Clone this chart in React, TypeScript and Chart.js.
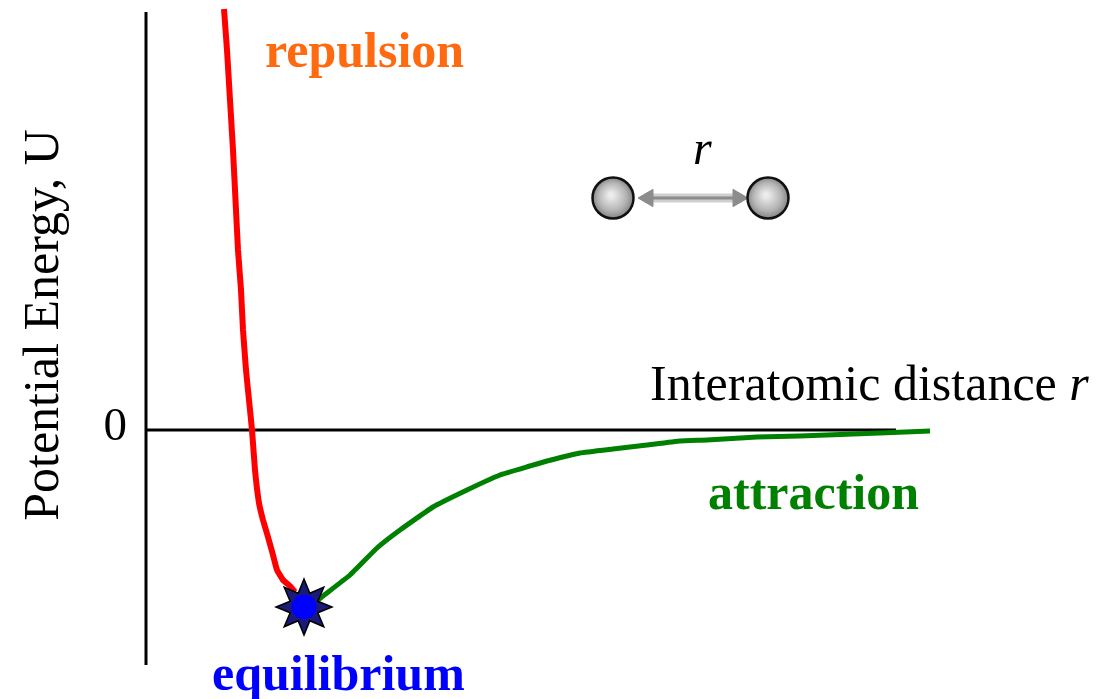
import React, { useEffect, useRef } from 'react';
import { Chart, registerables } from 'chart.js';

Chart.register(...registerables);

// ---- data (arbitrary units: r along x, U along y) ----
const repulsionR = [0.78, 0.81, 0.84, 0.87, 0.90, 0.92, 0.95, 0.97, 1.00, 1.03, 1.06, 1.09, 1.13, 1.17, 1.22, 1.27, 1.31, 1.37, 1.44, 1.49];
const repulsionU = [4.21, 3.80, 3.30, 2.80, 2.20, 1.80, 1.40, 1.00, 0.60, 0.30, 0.00, -0.40, -0.73, -0.90, -1.07, -1.25, -1.40, -1.50, -1.56, -1.62];

const attractionR = [1.72, 1.77, 2.04, 2.31, 2.54, 2.87, 3.21, 3.54, 3.84, 4.01, 4.34, 4.67, 5.01, 5.34, 5.61, 6.11, 6.54, 7.34, 7.84];
const attractionU = [-1.70, -1.66, -1.45, -1.18, -1.00, -0.77, -0.60, -0.45, -0.36, -0.31, -0.23, -0.19, -0.15, -0.11, -0.10, -0.07, -0.06, -0.03, -0.01];

const equilibriumR = [1.58];
const equilibriumU = [-1.77];

const yAxisR = [0, 0];
const yAxisU = [4.18, -2.35];
const xAxisR = [0, 7.5];
const xAxisU = [0, 0];

const atomR = [4.67, 6.22];
const atomU = [2.32, 2.32];
const arrowShaftR = [4.98, 5.96];
const arrowShaftU = [2.32, 2.32];
const arrowHeadR = [5.02, 5.92];
const arrowHeadU = [2.32, 2.32];

const rMin = 0;
const rMax = 8;
const uMin = -2.35;
const uMax = 4.18;

const labelTexts = ['repulsion', 'attraction', 'equilibrium', '0', 'r', 'Potential Energy, U'];
const labelR = [1.19, 5.62, 0.66, -0.19, 5.47, -0.88];
const labelU = [3.63, -0.79, -2.60, -0.10, 2.66, 1.05];
const xTitleMain = 'Interatomic distance ';
const xTitleVar = 'r';
const xTitleR = 5.04;
const xTitleU = 0.30;

const SERIF = '"Liberation Serif", "Times New Roman", Times, serif';

const labelStyles = [
  { font: `bold 50px ${SERIF}`, color: '#ff6a10', align: 'left', rotate: false },
  { font: `bold 50px ${SERIF}`, color: '#008000', align: 'left', rotate: false },
  { font: `bold 50px ${SERIF}`, color: '#0000ff', align: 'left', rotate: false },
  { font: `47px ${SERIF}`, color: '#000000', align: 'right', rotate: false },
  { font: `italic 48px ${SERIF}`, color: '#000000', align: 'left', rotate: false },
  { font: `50px ${SERIF}`, color: '#000000', align: 'center', rotate: true },
];

const pts = (xs: number[], ys: number[]) => xs.map((x, i) => ({ x, y: ys[i] }));

const textPlugin = {
  id: 'chartTexts',
  afterDatasetsDraw(chart: any) {
    const { ctx } = chart;
    const xs = chart.scales.x;
    const ys = chart.scales.y;
    ctx.save();
    ctx.textBaseline = 'alphabetic';
    labelTexts.forEach((t, i) => {
      const st = labelStyles[i];
      const px = xs.getPixelForValue(labelR[i]);
      const py = ys.getPixelForValue(labelU[i]);
      ctx.font = st.font;
      ctx.fillStyle = st.color;
      ctx.textAlign = st.align;
      if (st.rotate) {
        ctx.save();
        ctx.translate(px, py);
        ctx.rotate(-Math.PI / 2);
        ctx.fillText(t, 0, 0);
        ctx.restore();
      } else {
        ctx.fillText(t, px, py);
      }
    });
    // x-axis title with italic variable
    const tx = xs.getPixelForValue(xTitleR);
    const ty = ys.getPixelForValue(xTitleU);
    ctx.textAlign = 'left';
    ctx.fillStyle = '#000000';
    ctx.font = `50px ${SERIF}`;
    ctx.fillText(xTitleMain, tx, ty);
    const w = ctx.measureText(xTitleMain).width;
    ctx.font = `italic 50px ${SERIF}`;
    ctx.fillText(xTitleVar, tx + w, ty);
    ctx.restore();
  },
};

function makeStarburst(): HTMLCanvasElement {
  const c = document.createElement('canvas');
  c.width = 62;
  c.height = 62;
  const g = c.getContext('2d')!;
  const cx = 31, cy = 31;
  g.beginPath();
  for (let i = 0; i < 16; i++) {
    const a = (i * Math.PI) / 8 - Math.PI / 2;
    const r = i % 2 === 0 ? 28 : 15;
    const x = cx + Math.cos(a) * r;
    const y = cy + Math.sin(a) * r;
    if (i === 0) g.moveTo(x, y); else g.lineTo(x, y);
  }
  g.closePath();
  g.fillStyle = '#1a1a78';
  g.fill();
  g.lineWidth = 1.5;
  g.strokeStyle = '#000000';
  g.stroke();
  g.beginPath();
  g.arc(cx, cy, 12.5, 0, Math.PI * 2);
  g.fillStyle = '#0000ff';
  g.fill();
  return c;
}

function makeSphere(): HTMLCanvasElement {
  const c = document.createElement('canvas');
  c.width = 46;
  c.height = 46;
  const g = c.getContext('2d')!;
  const grad = g.createRadialGradient(21, 20, 2, 23, 23, 22);
  grad.addColorStop(0, '#ececec');
  grad.addColorStop(0.6, '#b4b4b4');
  grad.addColorStop(1, '#7a7a7a');
  g.beginPath();
  g.arc(23, 23, 20.5, 0, Math.PI * 2);
  g.fillStyle = grad;
  g.fill();
  g.lineWidth = 2.5;
  g.strokeStyle = '#111111';
  g.stroke();
  return c;
}

export default function App() {
  const canvasRef = useRef<HTMLCanvasElement | null>(null);

  useEffect(() => {
    document.body.style.margin = '0';
    const canvas = canvasRef.current;
    if (!canvas) return;
    const star = makeStarburst();
    const sphere = makeSphere();

    const chart = new Chart(canvas, {
      type: 'scatter',
      data: {
        datasets: [
          {
            data: pts(equilibriumR, equilibriumU),
            pointStyle: star as any,
            pointRadius: 28,
            showLine: false,
            order: 0,
          },
          {
            data: pts(repulsionR, repulsionU),
            showLine: true,
            borderColor: '#ff0000',
            borderWidth: 6,
            pointRadius: 0,
            tension: 0.1,
            order: 1,
          },
          {
            data: pts(attractionR, attractionU),
            showLine: true,
            borderColor: '#008000',
            borderWidth: 5,
            pointRadius: 0,
            tension: 0.1,
            order: 2,
          },
          {
            data: pts(atomR, atomU),
            pointStyle: sphere as any,
            pointRadius: 21,
            showLine: false,
            order: 3,
          },
          {
            data: pts(arrowHeadR, arrowHeadU),
            showLine: false,
            pointStyle: 'triangle',
            pointRotation: (ctx: any) => (ctx.dataIndex === 0 ? -90 : 90),
            pointRadius: 10,
            pointBackgroundColor: '#8c8c8c',
            pointBorderColor: '#8c8c8c',
            pointBorderWidth: 1,
            order: 4,
          },
          {
            data: pts(arrowShaftR, arrowShaftU),
            showLine: true,
            borderColor: '#8c8c8c',
            borderWidth: 3,
            pointRadius: 0,
            order: 5,
          },
          {
            data: pts(arrowShaftR, arrowShaftU),
            showLine: true,
            borderColor: '#cfcfcf',
            borderWidth: 9,
            pointRadius: 0,
            order: 6,
          },
          {
            data: pts(xAxisR, xAxisU),
            showLine: true,
            borderColor: '#000000',
            borderWidth: 3,
            pointRadius: 0,
            order: 10,
          },
          {
            data: pts(yAxisR, yAxisU),
            showLine: true,
            borderColor: '#000000',
            borderWidth: 3,
            pointRadius: 0,
            order: 11,
          },
        ] as any,
      },
      options: {
        animation: false,
        responsive: false,
        devicePixelRatio: 1,
        clip: false as any,
        layout: { autoPadding: false, padding: { left: 146, right: 157, top: 12, bottom: 34 } },
        plugins: {
          legend: { display: false },
          tooltip: { enabled: false },
        },
        events: [],
        scales: {
          x: { type: 'linear', display: false, min: rMin, max: rMax },
          y: { type: 'linear', display: false, min: uMin, max: uMax },
        },
      },
      plugins: [textPlugin as any],
    });

    return () => chart.destroy();
  }, []);

  return (
    <div style={{ position: 'fixed', left: 0, top: 0, width: 1103, height: 699, background: '#ffffff' }}>
      <canvas ref={canvasRef} width={1103} height={699} />
    </div>
  );
}
